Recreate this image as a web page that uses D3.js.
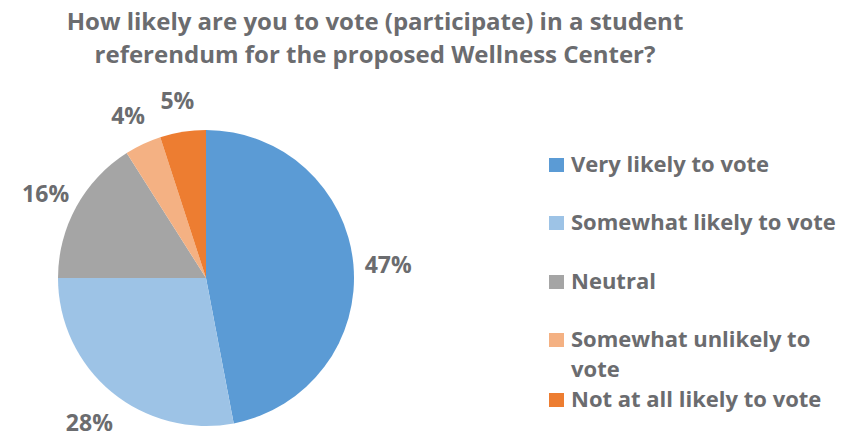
<!DOCTYPE html>
<html>
<head>
<meta charset="utf-8">
<script src="https://cdn.jsdelivr.net/npm/d3@7"></script>
<style>
  body { margin: 0; background: #fff; }
  svg { display: block; font-family: 'Open Sans', Lato, sans-serif; font-weight: bold; }
</style>
</head>
<body>
<svg width="842" height="442"></svg>
<script>
const categories = ['Very likely to vote', 'Somewhat likely to vote', 'Neutral', 'Somewhat unlikely to vote', 'Not at all likely to vote'];
const values = [47, 28, 16, 4, 5];
const colors = ['#5b9bd5', '#9dc3e6', '#a5a5a5', '#f4b183', '#ed7d31'];
const titleLines = ['How likely are you to vote (participate) in a student', 'referendum for the proposed Wellness Center?'];

const textColor = '#6b6c6f';
const svg = d3.select('svg');

// title
svg.append('g')
  .selectAll('text')
  .data(titleLines)
  .enter()
  .append('text')
  .attr('x', 375)
  .attr('y', (_, i) => 30 + i * 33)
  .attr('text-anchor', 'middle')
  .attr('font-size', 24)
  .attr('fill', textColor)
  .text(d => d);

// pie
const cx = 206, cy = 278, radius = 148;
const pie = d3.pie().sort(null).value(d => d);
const arcs = pie(values);
const arc = d3.arc().innerRadius(0).outerRadius(radius);
const labelArc = d3.arc().innerRadius(183).outerRadius(183);

const g = svg.append('g').attr('transform', `translate(${cx},${cy})`);

g.selectAll('path')
  .data(arcs)
  .enter()
  .append('path')
  .attr('d', arc)
  .attr('fill', (_, i) => colors[i]);

g.selectAll('text')
  .data(arcs)
  .enter()
  .append('text')
  .attr('transform', d => `translate(${labelArc.centroid(d)})`)
  .attr('text-anchor', 'middle')
  .attr('dy', '0.52em')
  .attr('font-size', 23)
  .attr('fill', textColor)
  .text(d => d.data + '%');

// legend
const legendY = [172, 230, 289, 347, 407];
const legend = svg.append('g')
  .selectAll('g')
  .data(categories)
  .enter()
  .append('g')
  .attr('transform', (_, i) => `translate(549,${legendY[i]})`);

legend.append('rect')
  .attr('y', -14)
  .attr('width', 15)
  .attr('height', 14)
  .attr('fill', (_, i) => colors[i]);

legend.append('text')
  .attr('x', 22)
  .attr('font-size', 22)
  .attr('fill', textColor)
  .each(function (d) {
    // wrap the long label onto two lines like the reference
    const t = d3.select(this);
    const parts = d === 'Somewhat unlikely to vote' ? ['Somewhat unlikely to', 'vote'] : [d];
    parts.forEach((p, j) => {
      t.append('tspan').attr('x', 22).attr('dy', j ? 30 : 0).text(p);
    });
  });
</script>
</body>
</html>
